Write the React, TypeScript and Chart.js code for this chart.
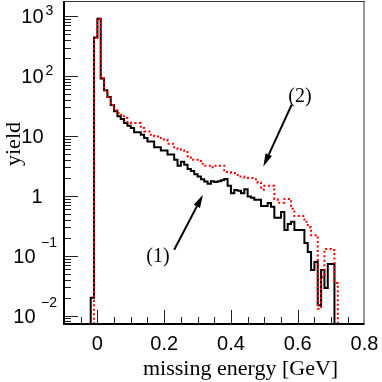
import React, { useEffect, useRef } from "react";
import { Chart, registerables } from "chart.js";

Chart.register(...registerables);

// ---- data -------------------------------------------------------------
const BIN_WIDTH = 0.01;
const FIRST_BIN_LOW = -0.02;

// (1) black solid histogram, bins from -0.02 to 0.71 (low edges -0.02 ... 0.70)
const blackYield = [
  0.02, 440, 905, 91, 58, 45, 33, 25.8, 21.3, 19.2,
  16.5, 14.9, 13.6, 11.5, 11.5, 10.5, 9.3, 8.1, 8.1, 6.5,
  6.5, 5.7, 5.7, 4.9, 4.9, 4.0, 3.2, 3.7, 3.3, 2.8,
  2.6, 2.3, 2.1, 1.9, 1.74, 1.59, 1.76, 1.7, 1.76, 1.82,
  1.91, 1.47, 1.11, 1.26, 1.22, 1.11, 1.29, 0.98, 0.93, 0.86,
  0.86, 0.68, 0.68, 0.76, 0.66, 0.43, 0.43, 0.54, 0.27, 0.34,
  0.37, 0.27, 0.27, 0.27, 0.164, 0.116, 0.058, 0.079, 0.015, 0.058,
  0.029, 0.073, 0.073,
];

// (2) red dotted histogram, bins from -0.02 to 0.72 (low edges -0.02 ... 0.71)
const redYield = [
  0, 440, 905, 91, 58, 45, 33, 26.7, 24.3, 22.7,
  20, 17, 16.5, 16.5, 16.5, 13.6, 11.9, 11.9, 10.5, 9.8,
  9.8, 8.7, 8.7, 7.4, 7.4, 6.5, 6.0, 5.7, 5.4, 4.6,
  4.0, 4.0, 4.0, 3.45, 3.2, 3.2, 3.0, 3.2, 3.2, 3.2,
  2.5, 2.5, 2.4, 2.4, 2.1, 2.1, 2.0, 1.98, 1.98, 1.9,
  1.66, 1.28, 1.47, 1.47, 1.47, 0.89, 0.77, 0.77, 0.89, 0.89,
  0.61, 0.46, 0.46, 0.46, 0.37, 0.3, 0.22, 0.22, 0.013, 0.044,
  0.13, 0.13, 0.125, 0.035,
];

const xMajorTicks = [0, 0.2, 0.4, 0.6, 0.8];
const xTickLabels = ["0", "0.2", "0.4", "0.6", "0.8"];
const X_MINOR_STEP = 0.05;
const yDecades = [-2, -1, 0, 1, 2, 3];

const X_MIN = -0.1;
const X_MAX = 0.8;
const Y_MIN = 0.00726;
const Y_MAX = 1795;

const xTitle = "missing energy [GeV]";
const yTitle = "yield";

const annotations = [
  { label: "(1)", textX: 0.1815, textY: 0.097, fromX: 0.23, fromY: 0.126, toX: 0.316, toY: 1.04 },
  { label: "(2)", textX: 0.6066, textY: 45.9, fromX: 0.582, fromY: 33.4, toX: 0.497, toY: 3.1 },
];

// ---- helpers ----------------------------------------------------------
function histPoints(values: number[]) {
  const bottom = Y_MIN / 10;
  const pts: { x: number; y: number }[] = [{ x: FIRST_BIN_LOW, y: bottom }];
  values.forEach((v, i) => {
    pts.push({ x: +(FIRST_BIN_LOW + i * BIN_WIDTH).toFixed(4), y: v > 0 ? v : bottom });
  });
  pts.push({ x: +(FIRST_BIN_LOW + values.length * BIN_WIDTH).toFixed(4), y: bottom });
  return pts;
}

const SANS = '"Liberation Sans", Arial, Helvetica, sans-serif';
const SERIF = '"Liberation Serif", "Times New Roman", Times, serif';

const framePlugin = {
  id: "rootFrame",
  afterDatasetsDraw(chart: any) {
    const { ctx, chartArea: a, scales } = chart;
    const xs = scales.x;
    const ys = scales.y;
    ctx.save();

    // frame: top & right thin
    ctx.strokeStyle = "#333";
    ctx.lineWidth = 1;
    ctx.beginPath();
    ctx.moveTo(a.left, a.top + 0.5);
    ctx.lineTo(a.right, a.top + 0.5);
    ctx.moveTo(a.right - 0.5, a.top);
    ctx.lineTo(a.right - 0.5, a.bottom);
    ctx.stroke();

    // ticks
    ctx.strokeStyle = "#222";
    ctx.lineWidth = 1;
    ctx.beginPath();
    for (let e = -3; e <= 3; e++) {
      for (let m = 1; m <= 9; m++) {
        const v = m * Math.pow(10, e);
        if (v < Y_MIN || v > Y_MAX) continue;
        const py = Math.round(ys.getPixelForValue(v)) + 0.5;
        const len = m === 1 ? 14 : 7;
        ctx.moveTo(a.left, py);
        ctx.lineTo(a.left + len, py);
      }
    }
    const nMinor = Math.round((X_MAX - X_MIN) / X_MINOR_STEP);
    for (let i = 1; i < nMinor; i++) {
      const v = X_MIN + i * X_MINOR_STEP;
      const isMajor = xMajorTicks.some((t) => Math.abs(t - v) < 1e-6);
      const px = Math.round(xs.getPixelForValue(v)) + 0.5;
      const len = isMajor ? 14 : 7;
      ctx.moveTo(px, a.bottom);
      ctx.lineTo(px, a.bottom - len);
    }
    ctx.stroke();

    // axes: left & bottom thick
    ctx.strokeStyle = "#000";
    ctx.lineWidth = 2;
    ctx.beginPath();
    ctx.moveTo(a.left, a.top);
    ctx.lineTo(a.left, a.bottom + 1);
    ctx.moveTo(a.left - 1, a.bottom);
    ctx.lineTo(a.right, a.bottom);
    ctx.stroke();

    // x tick labels
    ctx.fillStyle = "#000";
    ctx.font = `20px ${SANS}`;
    ctx.textAlign = "center";
    ctx.textBaseline = "alphabetic";
    xMajorTicks.forEach((t, i) => {
      ctx.fillText(xTickLabels[i], xs.getPixelForValue(t), a.bottom + 26);
    });

    // y tick labels (10^n)
    yDecades.forEach((e) => {
      const py = ys.getPixelForValue(Math.pow(10, e));
      ctx.font = `20px ${SANS}`;
      ctx.textAlign = "right";
      if (e === 0) {
        ctx.fillText("1", 42.5, py + 7);
      } else if (e === 1) {
        ctx.fillText("10", 43.5, py + 7);
      } else if (e > 1) {
        ctx.fillText("10", 43.5, py + 7);
        ctx.font = `14px ${SANS}`;
        ctx.textAlign = "left";
        ctx.fillText(String(e), 45.5, py - 1.5);
      } else {
        ctx.fillText("10", 35.5, py + 7);
        ctx.font = `14px ${SANS}`;
        ctx.textAlign = "left";
        ctx.fillText("\u2212" + Math.abs(e), 41, py - 9);
      }
    });

    // axis titles
    ctx.font = `22px ${SERIF}`;
    ctx.textAlign = "left";
    ctx.fillText(xTitle, 143, 375);
    ctx.save();
    ctx.translate(20, 144);
    ctx.rotate(-Math.PI / 2);
    ctx.font = `22px ${SERIF}`;
    ctx.textAlign = "center";
    ctx.fillText(yTitle, 0, 0);
    ctx.restore();

    // annotations with arrows
    annotations.forEach((an) => {
      ctx.font = `20px ${SERIF}`;
      ctx.textAlign = "center";
      ctx.textBaseline = "middle";
      ctx.fillText(an.label, xs.getPixelForValue(an.textX), ys.getPixelForValue(an.textY));
      const fx = xs.getPixelForValue(an.fromX);
      const fy = ys.getPixelForValue(an.fromY);
      const tx = xs.getPixelForValue(an.toX);
      const ty = ys.getPixelForValue(an.toY);
      const ang = Math.atan2(ty - fy, tx - fx);
      const headLen = 13;
      const headHalf = 3.5;
      const bx = tx - headLen * Math.cos(ang);
      const by = ty - headLen * Math.sin(ang);
      ctx.strokeStyle = "#000";
      ctx.lineWidth = 2;
      ctx.beginPath();
      ctx.moveTo(fx, fy);
      ctx.lineTo(bx, by);
      ctx.stroke();
      ctx.beginPath();
      ctx.moveTo(tx, ty);
      ctx.lineTo(bx + headHalf * Math.sin(ang), by - headHalf * Math.cos(ang));
      ctx.lineTo(bx - headHalf * Math.sin(ang), by + headHalf * Math.cos(ang));
      ctx.closePath();
      ctx.fillStyle = "#000";
      ctx.fill();
    });

    ctx.restore();
  },
};

export default function App() {
  const canvasRef = useRef<HTMLCanvasElement | null>(null);

  useEffect(() => {
    if (!canvasRef.current) return;
    const chart = new Chart(canvasRef.current, {
      type: "line",
      data: {
        datasets: [
          {
            label: "(2)",
            data: histPoints(redYield),
            borderColor: "#ff0000",
            borderWidth: 2,
            borderDash: [2, 2.5],
            stepped: "before",
            pointRadius: 0,
            fill: false,
            order: 0,
          },
          {
            label: "(1)",
            data: histPoints(blackYield),
            borderColor: "#000000",
            borderWidth: 2,
            stepped: "before",
            pointRadius: 0,
            fill: false,
            order: 1,
          },
        ],
      },
      options: {
        responsive: false,
        animation: false,
        devicePixelRatio: 1,
        events: [],
        layout: { padding: { left: 64, right: 17.5, top: 1, bottom: 58 } },
        plugins: { legend: { display: false }, tooltip: { enabled: false } },
        scales: {
          x: { type: "linear", min: X_MIN, max: X_MAX, display: false },
          y: { type: "logarithmic", min: Y_MIN, max: Y_MAX, display: false },
        },
      },
      plugins: [framePlugin],
    });
    return () => chart.destroy();
  }, []);

  return (
    <div style={{ position: "fixed", left: 0, top: 0, width: 382, height: 382, background: "#fff" }}>
      <canvas ref={canvasRef} width={382} height={382} style={{ width: 382, height: 382, display: "block" }} />
    </div>
  );
}
